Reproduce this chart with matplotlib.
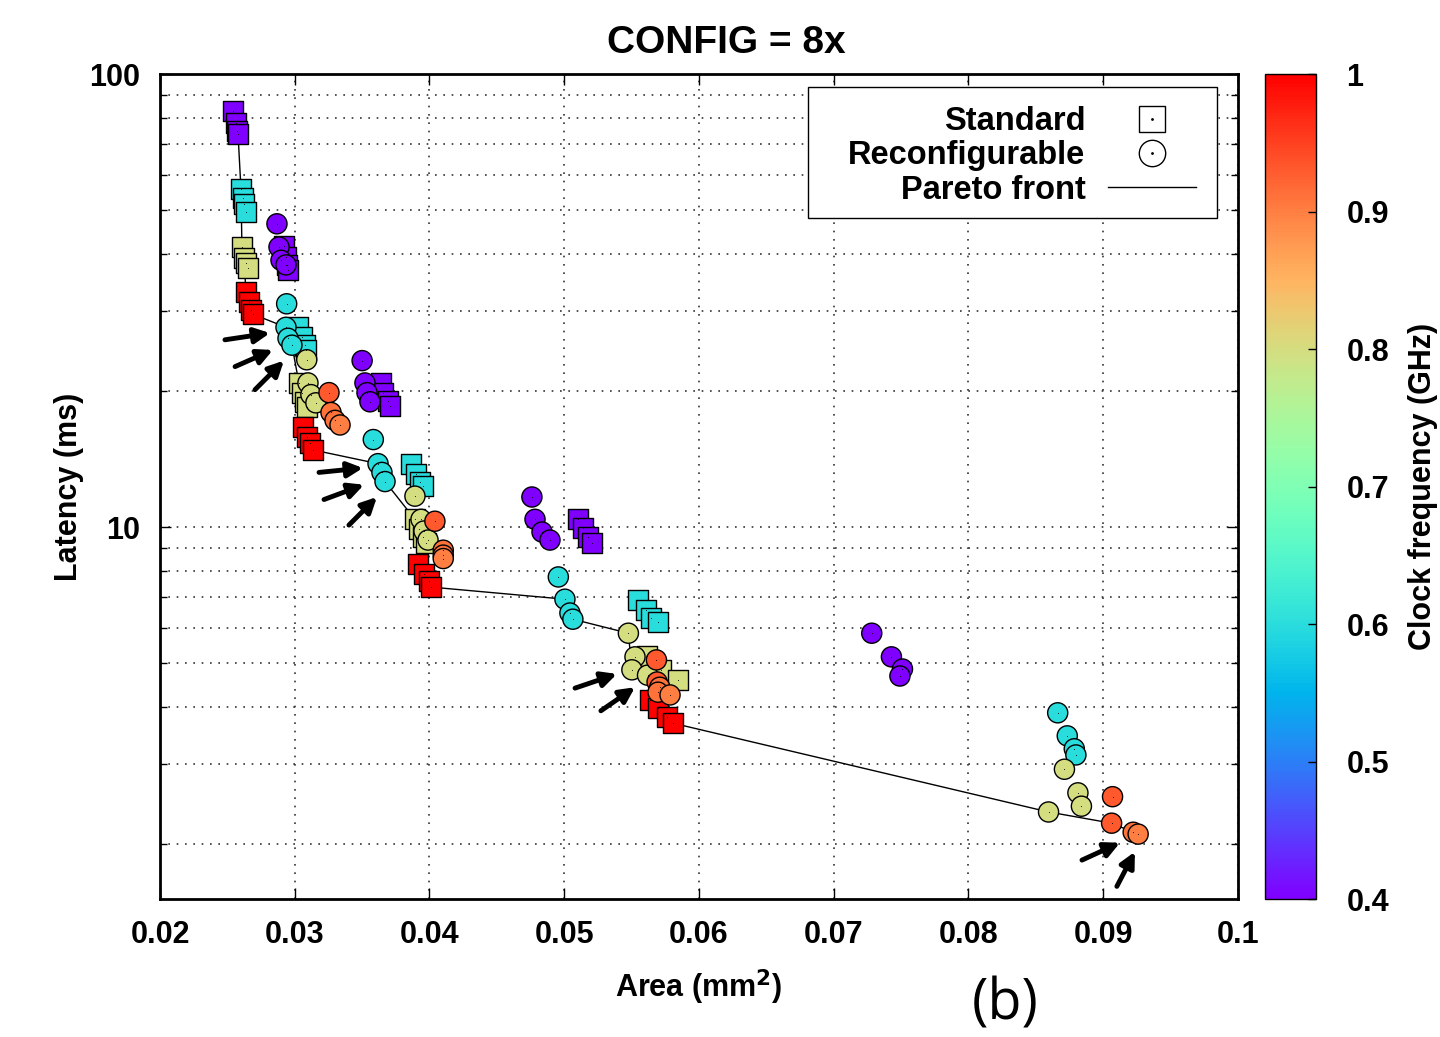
import numpy as np
import matplotlib.pyplot as plt
from matplotlib.lines import Line2D
from matplotlib.patches import Rectangle

# ------------------------------------
# Data (area in mm^2, latency in ms, clock in GHz)
# ------------------------------------

std_area = [0.02542, 0.02564, 0.02571, 0.02579,
            0.02601, 0.02616, 0.02623, 0.02638,
            0.02608, 0.02623, 0.02638, 0.02653,
            0.02638, 0.02660, 0.02675, 0.02690,
            0.02920, 0.02935, 0.02942, 0.02950,
            0.03024, 0.03054, 0.03076, 0.03083,
            0.03031, 0.03054, 0.03076, 0.03091,
            0.03061, 0.03091, 0.03113, 0.03135,
            0.03640, 0.03655, 0.03692, 0.03707,
            0.03862, 0.03900, 0.03929, 0.03951,
            0.03892, 0.03921, 0.03951, 0.03974,
            0.03914, 0.03959, 0.03996, 0.04011,
            0.05102, 0.05139, 0.05176, 0.05205,
            0.05547, 0.05606, 0.05643, 0.05695,
            0.05614, 0.05718, 0.05844,
            0.05636, 0.05696, 0.05762, 0.05807]
std_lat = [82.8, 78.0, 74.8, 73.7,
           55.7, 53.3, 51.6, 49.6,
           41.5, 39.3, 38.3, 37.3,
           33.0, 31.4, 30.1, 29.5,
           41.7, 39.4, 37.9, 36.9,
           27.6, 26.3, 25.2, 24.6,
           20.8, 19.8, 18.9, 18.4,
           16.6, 15.8, 15.3, 14.8,
           20.8, 19.8, 19.0, 18.5,
           13.8, 13.1, 12.6, 12.3,
           10.4, 9.90, 9.50, 9.22,
           8.28, 7.88, 7.60, 7.37,
           10.4, 9.95, 9.50, 9.22,
           6.90, 6.56, 6.30, 6.17,
           5.19, 4.84, 4.60,
           4.15, 3.98, 3.81, 3.69]
std_freq = [0.4] * 4 + [0.6] * 4 + [0.8] * 4 + [1.0] * 4 + \
           [0.4] * 4 + [0.6] * 4 + [0.8] * 4 + [1.0] * 4 + \
           [0.4] * 4 + [0.6] * 4 + [0.8] * 4 + [1.0] * 4 + \
           [0.4] * 4 + [0.6] * 4 + [0.8] * 3 + [1.0] * 4

rec_area = [0.02868, 0.02883, 0.02898, 0.02935,
            0.02940, 0.02935, 0.02950, 0.02979,
            0.03089, 0.03098, 0.03120, 0.03157,
            0.03254, 0.03269, 0.03299, 0.03336,
            0.03500, 0.03521, 0.03536, 0.03558,
            0.03583, 0.03618, 0.03647, 0.03670,
            0.03892, 0.03937, 0.03959, 0.03989,
            0.04040, 0.04102, 0.04102, 0.04102,
            0.04760, 0.04783, 0.04835, 0.04894,
            0.04956, 0.05005, 0.05042, 0.05064,
            0.05476, 0.05525, 0.05502, 0.05618,
            0.05684, 0.05689, 0.05709, 0.05696, 0.05785,
            0.07282, 0.07428, 0.07510, 0.07491,
            0.08662, 0.08733, 0.08785, 0.08797,
            0.08712, 0.08812, 0.08838, 0.08594,
            0.09069, 0.09062, 0.09222, 0.09259]
rec_lat = [46.7, 41.5, 38.8, 37.9,
           31.1, 27.6, 26.1, 25.2,
           23.4, 20.8, 19.6, 18.8,
           19.8, 17.9, 17.2, 16.8,
           23.3, 20.8, 19.8, 18.9,
           15.6, 13.8, 13.2, 12.6,
           11.7, 10.4, 9.80, 9.36,
           10.3, 8.89, 8.67, 8.52,
           11.65, 10.4, 9.75, 9.36,
           7.76, 6.93, 6.46, 6.26,
           5.83, 5.17, 4.84, 4.71,
           5.09, 4.55, 4.43, 4.32, 4.26,
           5.83, 5.17, 4.86, 4.69,
           3.89, 3.46, 3.24, 3.14,
           2.92, 2.59, 2.42, 2.35,
           2.54, 2.22, 2.12, 2.10]
rec_freq = [0.4] * 4 + [0.6] * 4 + [0.8] * 4 + [0.93, 0.91, 0.91, 0.90] + \
           [0.4] * 4 + [0.6] * 4 + [0.8] * 4 + [0.93, 0.91, 0.91, 0.90] + \
           [0.4] * 4 + [0.6] * 4 + [0.8] * 4 + [0.93, 0.93, 0.91, 0.91, 0.90] + \
           [0.4] * 4 + [0.6] * 4 + [0.8] * 4 + [0.93, 0.93, 0.91, 0.90]

# highlighted design points: (arrow tail, arrow head)
arrows = [((0.02482, 25.9), (0.02816, 26.8)),
          ((0.02557, 22.6), (0.02838, 24.6)),
          ((0.02705, 20.1), (0.02920, 23.3)),
          ((0.03180, 13.2), (0.03506, 13.5)),
          ((0.03217, 11.5), (0.03514, 12.4)),
          ((0.03402, 10.1), (0.03610, 11.65)),
          ((0.05080, 4.41), (0.05391, 4.74)),
          ((0.05272, 3.93), (0.05525, 4.43)),
          ((0.08842, 1.84), (0.09124, 2.01)),
          ((0.09101, 1.61), (0.09235, 1.92))]

# ------------------------------------
# Pareto front from all points
# ------------------------------------

all_area = np.array(std_area + rec_area)
all_lat = np.array(std_lat + rec_lat)
order = np.lexsort((all_lat, all_area))
front_x, front_y = [], []
best = np.inf
for i in order:
    if all_lat[i] < best:
        best = all_lat[i]
        front_x.append(all_area[i])
        front_y.append(all_lat[i])

# ------------------------------------
# Plot
# ------------------------------------

plt.rcParams['font.family'] = ['Liberation Sans', 'DejaVu Sans']
plt.rcParams['font.weight'] = 'bold'

fig = plt.figure(figsize=(14.4, 10.37), dpi=100)
ax = fig.add_axes([160 / 1440, 1 - 899 / 1037, 1078 / 1440, 825 / 1037])
cax = fig.add_axes([1265 / 1440, 1 - 899 / 1037, 51 / 1440, 825 / 1037])

ax.plot(front_x, front_y, color='black', lw=1, zorder=2)

sc = ax.scatter(std_area, std_lat, c=std_freq, cmap='rainbow', vmin=0.4, vmax=1.0,
                marker='s', s=210, edgecolors='black', linewidths=1, zorder=3)
ax.scatter(rec_area, rec_lat, c=rec_freq, cmap='rainbow', vmin=0.4, vmax=1.0,
           marker='o', s=210, edgecolors='black', linewidths=1, zorder=3)
ax.scatter(std_area + rec_area, std_lat + rec_lat, c='black', s=1.5, marker='.',
           linewidths=0, zorder=4)

for tail, head in arrows:
    ax.annotate('', xy=head, xytext=tail,
                arrowprops=dict(arrowstyle='-|>,head_length=0.9,head_width=0.45',
                                lw=3.5, color='black', shrinkA=0, shrinkB=0),
                zorder=5)

ax.set_yscale('log')
ax.set_xlim(0.02, 0.1)
ax.set_ylim(1.51, 100)
ax.set_xticks(np.arange(0.02, 0.1001, 0.01))
ax.set_xticklabels(['0.02', '0.03', '0.04', '0.05', '0.06', '0.07', '0.08', '0.09', '0.1'])
ax.set_yticks([10, 100])
ax.set_yticklabels(['10', '100'])
ax.set_yticks([2, 3, 4, 5, 6, 7, 8, 9, 20, 30, 40, 50, 60, 70, 80, 90], minor=True)
ax.yaxis.set_minor_formatter(plt.NullFormatter())
ax.tick_params(axis='both', which='both', direction='in', top=True, right=True,
               labelsize=22, width=1)
ax.tick_params(axis='x', which='major', length=8, pad=15)
ax.tick_params(axis='y', which='major', length=8, pad=14)
ax.tick_params(axis='y', which='minor', length=5)
ax.grid(True, which='both', linestyle=(0, (1, 4)), color='#333333', lw=1.2)
for sp in ax.spines.values():
    sp.set_linewidth(2)

ax.set_xlabel('Area (mm$^\\mathbf{2}$)', fontsize=22, fontweight='bold', labelpad=13)
ax.set_ylabel('Latency (ms)', fontsize=22, fontweight='bold', labelpad=4)
fig.text(726 / 1440, 1 - 43 / 1037, 'CONFIG = 8x', fontsize=28, fontweight='bold',
         ha='center', va='center')

# legend box (gnuplot style: wide frame, right-aligned labels)
ax.add_patch(Rectangle((808 / 1440, 1 - 218 / 1037), 409 / 1440, 131 / 1037,
                       transform=fig.transFigure, facecolor='white', edgecolor='black',
                       lw=1, clip_on=False, zorder=4.8))
sq = Line2D([], [], marker='s', ls='none', ms=19, mfc='white', mec='black', mew=1)
ci = Line2D([], [], marker='o', ls='none', ms=19, mfc='white', mec='black', mew=1)
dot = Line2D([], [], marker='.', ls='none', ms=2, color='black')
ln = Line2D([], [], color='black', lw=1)
leg = ax.legend([(sq, dot), (ci, dot), ln], ['Standard', 'Reconfigurable', 'Pareto front'],
                loc='upper right', bbox_to_anchor=(0.975, 0.979), borderaxespad=0,
                markerfirst=False, fontsize=23.5, frameon=False,
                handlelength=2.7, handletextpad=0.7,
                labelspacing=0.1, borderpad=0.45)

# colorbar
cb = fig.colorbar(sc, cax=cax, ticks=[0.4, 0.5, 0.6, 0.7, 0.8, 0.9, 1.0])
cb.ax.set_yticklabels(['0.4', '0.5', '0.6', '0.7', '0.8', '0.9', '1'])
cb.ax.tick_params(direction='in', length=6, labelsize=22, pad=22, width=1)
cb.outline.set_linewidth(1)
fig.text(1423 / 1440, 1 - 486 / 1037, 'Clock frequency (GHz)', rotation=90,
         fontsize=22, fontweight='bold', ha='center', va='center')

fig.text(1005 / 1440, 1 - 1005 / 1037, '(b)', fontsize=40, fontweight='normal',
         family=['Open Sans', 'DejaVu Sans'], ha='center', va='center')

plt.savefig('out.png', dpi=100)
